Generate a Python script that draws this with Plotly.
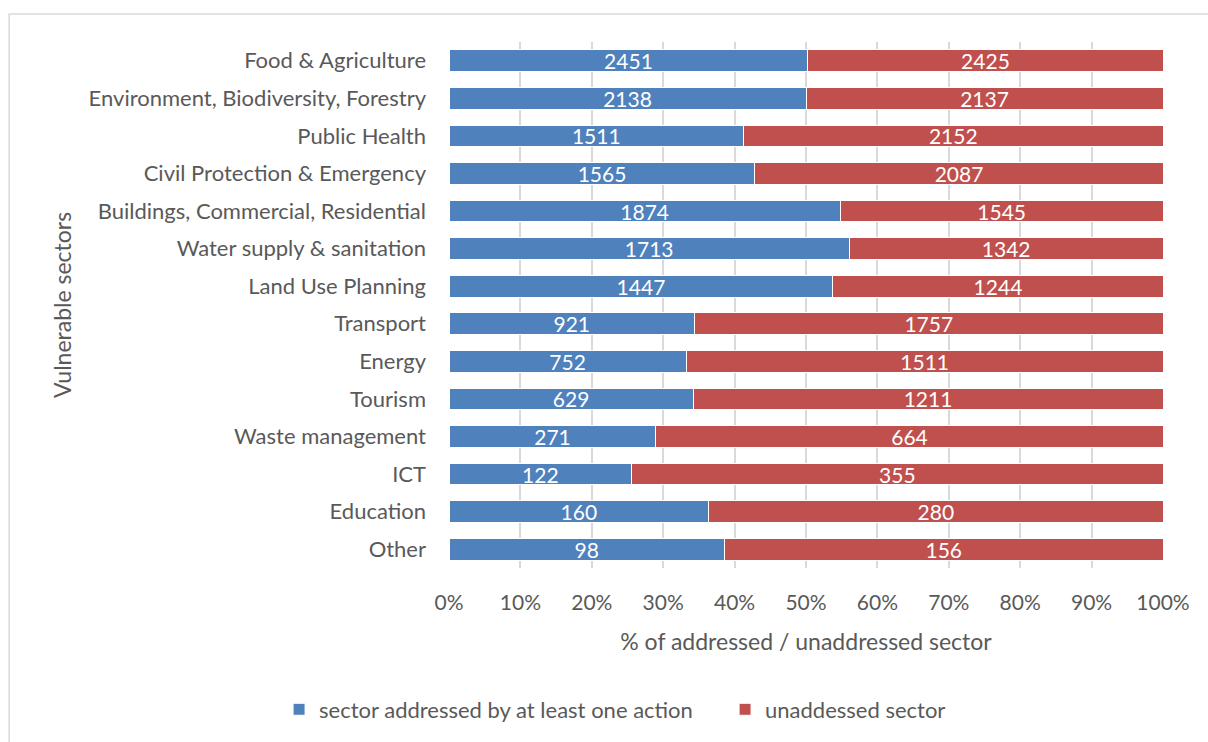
import plotly.graph_objects as go

sectors = [
    "Food & Agriculture",
    "Environment, Biodiversity, Forestry",
    "Public Health",
    "Civil Protection & Emergency",
    "Buildings, Commercial, Residential",
    "Water supply & sanitation",
    "Land Use Planning",
    "Transport",
    "Energy",
    "Tourism",
    "Waste management",
    "ICT",
    "Education",
    "Other",
]
addressed = [2451, 2138, 1511, 1565, 1874, 1713, 1447, 921, 752, 629, 271, 122, 160, 98]
unaddressed = [2425, 2137, 2152, 2087, 1545, 1342, 1244, 1757, 1511, 1211, 664, 355, 280, 156]
tick_vals = [0, 10, 20, 30, 40, 50, 60, 70, 80, 90, 100]
tick_text = [f"{v}%" for v in tick_vals]

FONT = "Lato"
GREY = "#595959"
SIZE = 22

fig = go.Figure()
for vals, name, color in [
    (addressed, "sector addressed by at least one action", "#4f81bd"),
    (unaddressed, "unaddessed sector", "#c0504d"),
]:
    fig.add_trace(go.Bar(
        y=sectors, x=vals, orientation="h",
        name=name,
        marker=dict(color=color, line=dict(color="#ffffff", width=1)),
        text=[str(v) for v in vals], textposition="inside",
        insidetextanchor="middle", textangle=0, constraintext="none",
        textfont=dict(color="white", size=SIZE - 1, family=FONT),
    ))

fig.update_layout(
    barmode="stack",
    barnorm="percent",
    bargap=0.42,
    width=1208, height=742,
    margin=dict(l=449, r=45, t=42, b=172),
    paper_bgcolor="white",
    plot_bgcolor="white",
    font=dict(family=FONT, size=SIZE, color=GREY),
    uniformtext=dict(mode=False),
    xaxis=dict(
        range=[0, 100], tickvals=tick_vals, ticktext=tick_text,
        showgrid=True, gridcolor="#d9d9d9", gridwidth=1.5,
        zeroline=False, showline=False, ticks="",
        ticklabelstandoff=20,
        tickfont=dict(size=SIZE - 1, color=GREY),
        title=dict(text="% of addressed / unaddressed sector",
                   font=dict(size=SIZE + 1, color=GREY), standoff=20),
    ),
    yaxis=dict(
        categoryorder="array", categoryarray=sectors, autorange="reversed",
        showgrid=False, showline=False, ticks="",
        ticklabelstandoff=22,
        tickfont=dict(size=SIZE, color=GREY),
        title=dict(text="Vulnerable sectors",
                   font=dict(size=SIZE + 1, color=GREY), standoff=10),
    ),
    legend=dict(
        orientation="h", x=-0.238, y=-0.269, xanchor="left", yanchor="middle",
        font=dict(size=SIZE, color=GREY), traceorder="normal",
        itemwidth=30, entrywidth=401,
    ),
    showlegend=True,
    shapes=[dict(
        type="rect", xref="paper", yref="paper",
        x0=-0.616, x1=1.3, y0=1.053, y1=-0.5,
        line=dict(color="#d9d9d9", width=1.5), fillcolor="rgba(0,0,0,0)",
        layer="below",
    )],
)

fig.write_html("out.html")
